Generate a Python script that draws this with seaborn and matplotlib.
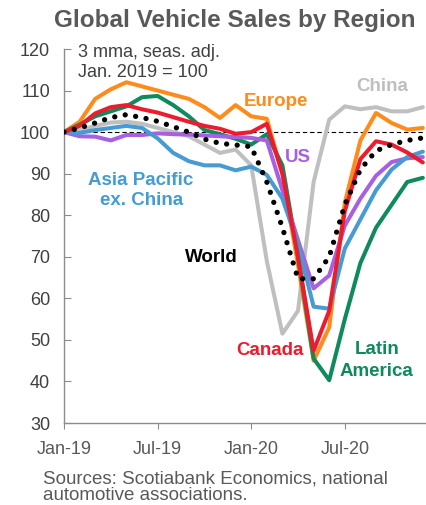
import pandas as pd
import numpy as np
import matplotlib
matplotlib.use("Agg")
import matplotlib.pyplot as plt
import seaborn as sns

# monthly index, Jan 2019 = 100 (3 mma, seas. adj.)
months = pd.date_range("2019-01-01", periods=24, freq="MS")
tick_months = ["Jan-19", "Jul-19", "Jan-20", "Jul-20"]

china = [100, 100.5, 101.5, 102.3, 102.5, 102, 101, 100, 99, 97, 95, 95.8,
         92, 69, 51.5, 57, 88, 103, 106.2, 105.5, 106, 105, 105, 106]
europe = [100, 102.5, 108, 110.3, 112, 111, 110, 109, 108, 106, 103.4, 106.5,
          103.8, 103.2, 90, 68, 45, 53, 83, 98, 104.6, 102.2, 100.6, 101]
latam = [100, 101.8, 103.8, 105, 106.2, 108.4, 108.7, 106.5, 103.8, 100.5, 99.5, 98.4,
         97, 99.5, 92, 70, 45.5, 40.3, 55, 68.5, 77, 82.5, 88, 89]
us = [100, 99, 98.9, 98, 99.3, 99.3, 99.7, 99.5, 99.4, 99.2, 99, 98.8,
      98.6, 98, 86, 74, 62.4, 65.5, 77.5, 84, 89.5, 92.8, 93.7, 94]
apac = [100, 99.8, 100.5, 101, 101.5, 101, 98.5, 95, 93, 92, 92, 90.8,
        91.7, 89.7, 84, 73, 58, 57.5, 72, 79, 86, 91, 94, 95.3]
canada = [100, 101.5, 104.5, 106, 106.5, 105.5, 104.7, 103.6, 102.5, 101.5, 100.8, 99.6,
          100, 102, 90, 70, 47.4, 57, 81, 93.5, 97.8, 97, 95.1, 92.7]
world = [100, 101, 102.2, 103.5, 104.2, 103.5, 102.6, 101.3, 100, 98.3, 97.3, 96.9,
         96.5, 88, 77, 64.7, 64.7, 70, 82.5, 91, 95.5, 97, 98, 98.6]

x = np.arange(len(months))

sns.set_style("ticks")
plt.rcParams["font.family"] = ["Liberation Sans", "DejaVu Sans"]

fig = plt.figure(figsize=(4.27, 5.05), dpi=100)
ax = fig.add_axes([64 / 427, 1 - 423 / 505, (425 - 64) / 427, (423 - 49) / 505])

ax.axhline(100, color="black", lw=0.8, ls=(0, (4, 2.5)), zorder=1)

series = [
    (china, "#BFBFBF"),
    (europe, "#FF8C1A"),
    (latam, "#0F8A5C"),
    (us, "#A860E2"),
    (apac, "#459BD2"),
    (canada, "#EC1C2E"),
]
for i, (vals, col) in enumerate(series):
    sns.lineplot(x=x, y=vals, ax=ax, color=col, linewidth=2.9, zorder=2 + i)

# world - dotted black
sns.lineplot(x=x, y=world, ax=ax, color="black", linewidth=3.8,
             linestyle=(0, (0.01, 2.0)), zorder=10)
ax.lines[-1].set_dash_capstyle("round")

ax.set_xlim(0, 23.14)
ax.set_ylim(30, 120)
ax.set_yticks(range(30, 121, 10))
ax.set_xticks([0, 6, 12, 18])
ax.set_xticklabels(tick_months)
ax.set_xlabel("")
ax.set_ylabel("")

for s in ["top", "right"]:
    ax.spines[s].set_visible(False)
for s in ["left", "bottom"]:
    ax.spines[s].set_color("#8C8C8C")
    ax.spines[s].set_linewidth(1)
ax.tick_params(axis="y", direction="in", length=5, color="#8C8C8C", pad=10,
               labelsize=13, labelcolor="#404040")
ax.tick_params(axis="x", direction="out", length=4, color="#8C8C8C", pad=9,
               labelsize=13, labelcolor="#595959")

# labels
lab = dict(fontsize=13.5, fontweight="bold", ha="center", va="baseline")
ax.text(20.4, 109.8, "China", color="#BFBFBF", **lab)
ax.text(13.6, 106.2, "Europe", color="#FF8C1A", **lab)
ax.text(15.0, 92.9, "US", color="#A860E2", **lab)
ax.text(4.9, 87.3, "Asia Pacific", color="#459BD2", **lab)
ax.text(4.95, 82.5, "ex. China", color="#459BD2", **lab)
ax.text(9.47, 68.7, "World", color="black", **lab)
ax.text(13.2, 46.3, "Canada", color="#EC1C2E", **lab)
ax.text(20.05, 46.7, "Latin", color="#0F8A5C", **lab)
ax.text(20.05, 41.3, "America", color="#0F8A5C", **lab)

ax.text(0.92, 118.0, "3 mma, seas. adj.", fontsize=13, color="#404040",
        ha="left", va="baseline", clip_on=False)
ax.text(0.92, 113.3, "Jan. 2019 = 100", fontsize=13, color="#404040",
        ha="left", va="baseline", clip_on=False)

fig.text(234.5 / 427, 1 - 27 / 505, "Global Vehicle Sales by Region",
         fontsize=17.5, fontweight="bold", color="#595959", ha="center", va="baseline")
fig.text(43 / 427, 1 - 483 / 505, "Sources: Scotiabank Economics, national",
         fontsize=13.5, color="#595959", ha="left", va="baseline")
fig.text(43 / 427, 1 - 500 / 505, "automotive associations.",
         fontsize=13.5, color="#595959", ha="left", va="baseline")

fig.savefig("out.png", dpi=100)
